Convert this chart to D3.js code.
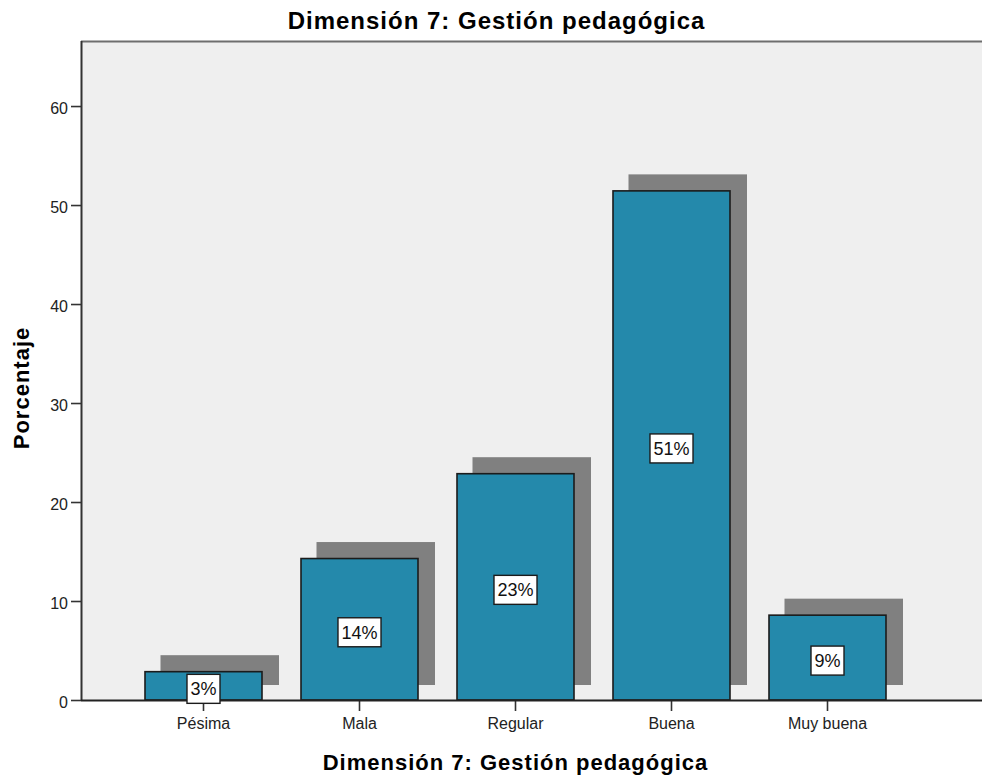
<!DOCTYPE html>
<html>
<head>
<meta charset="utf-8">
<script src="https://cdn.jsdelivr.net/npm/d3@7"></script>
<style>
  html, body { margin: 0; padding: 0; background: #ffffff; }
  svg { display: block; font-family: "Liberation Sans", Arial, sans-serif; }
</style>
</head>
<body>
<svg id="chart" width="982" height="776"></svg>
<script>
// Frequency distribution for "Dimensión 7: Gestión pedagógica" (percent of respondents)
const categories = ["Pésima", "Mala", "Regular", "Buena", "Muy buena"];
const percentages = [2.86, 14.29, 22.86, 51.43, 8.57];
const yTickValues = [0, 10, 20, 30, 40, 50, 60];
const chartTitle = "Dimensión 7: Gestión pedagógica";
const xAxisTitle = "Dimensión 7: Gestión pedagógica";
const yAxisTitle = "Porcentaje";

const W = 982, H = 776;
const plot = { left: 81, right: 982, top: 41, bottom: 700 };

const svg = d3.select("#chart");

const x = d3.scaleBand()
  .domain(categories)
  .range([125.5, 905.5])
  .paddingInner(0.25)
  .paddingOuter(0.125);

const y = d3.scaleLinear()
  .domain([0, 66.57])
  .range([plot.bottom, plot.top]);

// plot background
svg.append("rect")
  .attr("x", plot.left).attr("y", plot.top)
  .attr("width", plot.right - plot.left)
  .attr("height", plot.bottom - plot.top)
  .attr("fill", "#efefef");

// top frame line
svg.append("line")
  .attr("x1", plot.left).attr("x2", plot.right)
  .attr("y1", plot.top + 0.5).attr("y2", plot.top + 0.5)
  .attr("stroke", "#6e6e6e").attr("stroke-width", 2);

const data = categories.map((c, i) => ({ cat: c, value: percentages[i] }));

// drop shadows behind the bars
const shadowDx = 15.5, shadowDy = 16.5;
svg.append("g").selectAll("rect")
  .data(data)
  .join("rect")
  .attr("x", d => x(d.cat) + shadowDx)
  .attr("y", d => y(d.value) - shadowDy)
  .attr("width", x.bandwidth() + 1.5)
  .attr("height", d => (y(0) - 15) - (y(d.value) - shadowDy))
  .attr("fill", "#808080");

// bars
svg.append("g").selectAll("rect")
  .data(data)
  .join("rect")
  .attr("x", d => x(d.cat))
  .attr("y", d => y(d.value))
  .attr("width", x.bandwidth())
  .attr("height", d => y(0) - y(d.value))
  .attr("fill", "#2489ab")
  .attr("stroke", "#1b1b1b")
  .attr("stroke-width", 1.6);

// y axis
const yAxis = svg.append("g")
  .attr("transform", `translate(${plot.left},0)`)
  .call(d3.axisLeft(y).tickValues(yTickValues).tickSize(10).tickPadding(3));
yAxis.select(".domain").remove();
yAxis.selectAll(".tick line").attr("stroke", "#333").attr("stroke-width", 1.6);
yAxis.selectAll(".tick text")
  .attr("font-size", 16).attr("fill", "#222")
  .attr("font-family", "'Liberation Sans', Arial, sans-serif")
  .attr("dy", "0.45em");

svg.append("line")
  .attr("x1", plot.left + 0.5).attr("x2", plot.left + 0.5)
  .attr("y1", plot.top).attr("y2", plot.bottom)
  .attr("stroke", "#333").attr("stroke-width", 2);

// x axis
const xAxis = svg.append("g")
  .attr("transform", `translate(0,${plot.bottom})`)
  .call(d3.axisBottom(x).tickSize(11).tickPadding(7));
xAxis.select(".domain").remove();
xAxis.selectAll(".tick line").attr("stroke", "#333").attr("stroke-width", 1.6);
xAxis.selectAll(".tick text")
  .attr("font-size", 16).attr("fill", "#222")
  .attr("font-family", "'Liberation Sans', Arial, sans-serif");

svg.append("line")
  .attr("x1", plot.left).attr("x2", plot.right)
  .attr("y1", plot.bottom + 0.5).attr("y2", plot.bottom + 0.5)
  .attr("stroke", "#222").attr("stroke-width", 2);

// value labels in white boxes at mid-height of each bar
const labels = svg.append("g").selectAll("g")
  .data(data)
  .join("g")
  .attr("transform", d => `translate(${x(d.cat) + x.bandwidth() / 2},${(y(d.value) + y(0)) / 2 + 3})`);

labels.append("rect").attr("class", "lbl-box");
labels.append("text")
  .attr("text-anchor", "middle")
  .attr("dy", "0.36em")
  .attr("font-size", 18)
  .attr("fill", "#111")
  .text(d => Math.round(d.value) + "%");

labels.each(function () {
  const g = d3.select(this);
  const bb = g.select("text").node().getBBox();
  const padX = 3.5, h = 29;
  g.select("rect")
    .attr("x", bb.x - padX)
    .attr("y", -h / 2)
    .attr("width", bb.width + padX * 2)
    .attr("height", h)
    .attr("fill", "#ffffff")
    .attr("stroke", "#1b1b1b")
    .attr("stroke-width", 1.4);
});

// titles
svg.append("text")
  .attr("x", 496.5).attr("y", 28.5)
  .attr("text-anchor", "middle")
  .attr("font-size", 24).attr("font-weight", "bold")
  .attr("letter-spacing", 1)
  .attr("fill", "#000")
  .text(chartTitle);

svg.append("text")
  .attr("x", 515.5).attr("y", 770)
  .attr("text-anchor", "middle")
  .attr("font-size", 22).attr("font-weight", "bold")
  .attr("letter-spacing", 1)
  .attr("fill", "#000")
  .text(xAxisTitle);

svg.append("text")
  .attr("transform", "translate(28.5,388) rotate(-90)")
  .attr("text-anchor", "middle")
  .attr("font-size", 22).attr("font-weight", "bold")
  .attr("letter-spacing", 1)
  .attr("fill", "#000")
  .text(yAxisTitle);
</script>
</body>
</html>
